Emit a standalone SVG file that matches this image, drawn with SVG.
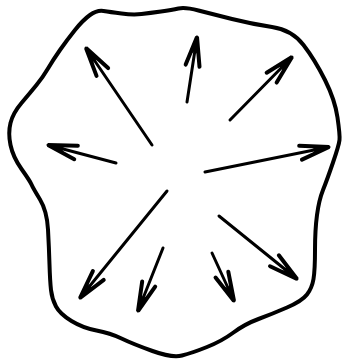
<svg xmlns="http://www.w3.org/2000/svg" width="344" height="362" viewBox="0 0 344 362">
<defs>
<style>
.outline{fill:none;stroke:#000;stroke-width:4;stroke-linejoin:round;stroke-linecap:round}
.shaft{fill:none;stroke:#000;stroke-width:3;stroke-linecap:round;marker-end:url(#head)}
</style>
<marker id="head" markerUnits="userSpaceOnUse" viewBox="-2 -2 36 20" markerWidth="36" markerHeight="20" refX="30" refY="8" orient="auto" overflow="visible">
<path d="M1,1 L30,8 L1,15" fill="none" stroke="#000" stroke-width="4" stroke-linejoin="miter" stroke-linecap="round"/>
<path d="M30,8 L10,2.5 L16,8 L10,13.5 Z" fill="#000"/>
</marker>
</defs>
<rect width="344" height="362" fill="#fff"/>
<g id="outline">
<path class="outline" d="M90,15 Q97,10 103.5,11 Q110,12 121.5,13.5 Q133,15 141.5,14 Q150,13 161,11.5 Q172,10 178.5,8.5 Q185,7 198.5,10.5 Q212,14 232,19 Q252,24 272,27 Q292,30 303.5,45 Q315,60 325,80 Q335,100 337.5,117.5 Q340,135 339.5,140 Q339,145 333,162.5 Q327,180 323,190 Q319,200 317,215 Q315,230 315,250 Q315,270 313.5,279 Q312,288 307,294.5 Q302,301 287,307.5 Q272,314 258.5,319 Q245,324 233.5,332.5 Q222,341 207,347 Q192,353 182,355.5 Q172,358 152.5,351 Q133,344 121.5,338.5 Q110,333 96.5,330.5 Q83,328 71.5,321 Q60,314 56,306.5 Q52,299 51,290 Q50,281 49.5,264.5 Q49,248 48,229.5 Q47,211 40,199.5 Q33,188 31.5,184.5 Q30,181 21.5,169 Q13,157 10.5,145 Q8,133 10.5,123 Q13,113 21.5,103 Q30,93 36.5,85 Q43,77 48,68.5 Q53,60 60,50 Q67,40 75,30 Q83,20 90,15 Z"/>
</g>
<g id="arrows">
<line class="shaft" x1="152" y1="145" x2="86" y2="48"/>
<line class="shaft" x1="116" y1="163" x2="48" y2="145"/>
<line class="shaft" x1="187" y1="102" x2="197" y2="37"/>
<line class="shaft" x1="230" y1="120" x2="292" y2="57"/>
<line class="shaft" x1="205" y1="172" x2="329" y2="147"/>
<line class="shaft" x1="167" y1="191" x2="80" y2="298"/>
<line class="shaft" x1="163" y1="248" x2="138" y2="311"/>
<line class="shaft" x1="212" y1="253" x2="234" y2="301"/>
<line class="shaft" x1="219" y1="216" x2="297" y2="279"/>
</g>
</svg>
